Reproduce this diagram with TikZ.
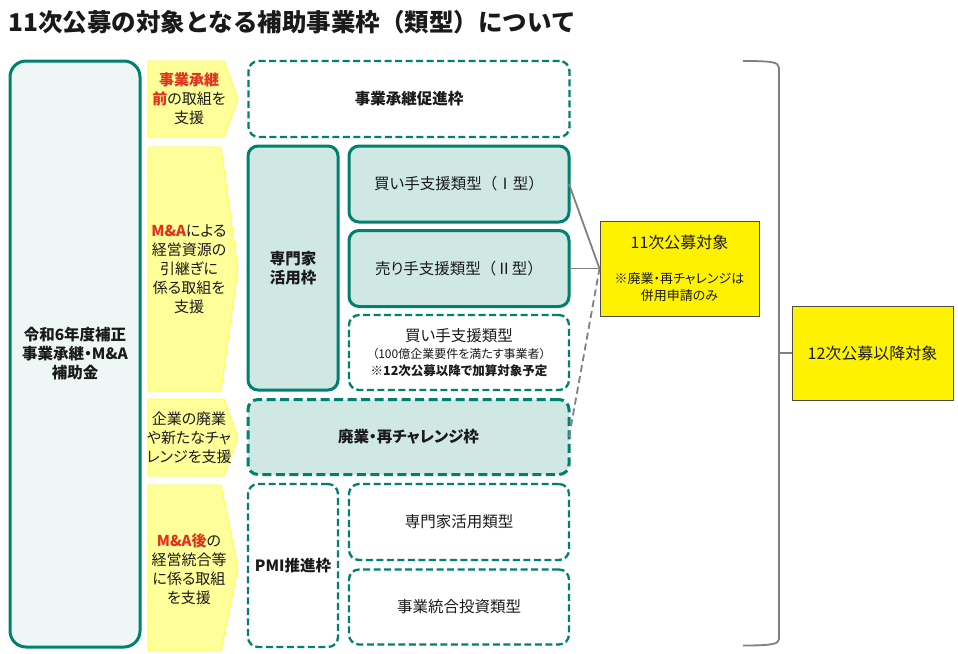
\documentclass[tikz,border=0pt]{standalone}
\usepackage{fontspec}
\setmainfont{Noto Sans CJK JP}[RawFeature=+palt]
\newfontfamily\plainjp{Noto Sans CJK JP}
\definecolor{tealline}{HTML}{00806E}
\definecolor{tealfill}{HTML}{CFE8E3}
\definecolor{palefill}{HTML}{EEF7F5}
\definecolor{arrowfill}{HTML}{FFFF99}
\definecolor{arrowline}{HTML}{FFFF33}
\definecolor{hired}{HTML}{E3301F}
\definecolor{connline}{HTML}{808080}
\definecolor{txt}{HTML}{1A1A1A}
\newcommand{\rd}[1]{\textcolor{hired}{\bfseries #1}}
\newcommand{\smallnote}{\fontsize{13}{17}\selectfont}
\tikzset{
  every node/.style={text=txt},
  basebox/.style={inner sep=0pt, outer sep=0pt, align=center, rounded corners=10pt,
                  font=\fontsize{15.5}{19}\selectfont},
  solidbox/.style={basebox, draw=tealline, line width=3pt, fill=tealfill},
  dashbox/.style={basebox, draw=tealline, line width=2.3pt, dash pattern=on 7pt off 3.5pt, fill=white},
  dashfill/.style={basebox, draw=tealline, line width=3pt, dash pattern=on 9pt off 4.5pt, fill=tealfill},
  chev/.style={draw=arrowline, line width=0.8pt, fill=arrowfill},
  chevtext/.style={align=center, inner sep=0pt, font=\fontsize{15}{19}\selectfont},
  target/.style={draw=black!70, line width=1pt, fill=yellow, inner sep=0pt, align=center,
                 font=\fontsize{16}{19}\selectfont},
  conn/.style={draw=connline, line width=1.8pt},
}
\begin{document}
\begin{tikzpicture}[x=1pt,y=-1pt]
\useasboundingbox (0,0) rectangle (958,653);

% title
\node[anchor=base west, inner sep=0pt, font=\plainjp\fontsize{24.5}{30}\selectfont\bfseries] (title) at (8,31)
  {11次公募の対象となる補助事業枠（類型）について};

% left main box
\node[basebox, draw=tealline, line width=3pt, fill=palefill, rounded corners=16pt,
      minimum width=130pt, minimum height=586pt, font=\fontsize{15.5}{19}\selectfont\bfseries]
  (main) at (75,354) {令和6年度補正\\事業承継・M\&A\\補助金};

% chevrons
\draw[chev] (148,61) -- (224,61) -- (238,99) -- (224,137) -- (148,137) -- cycle;
\node[chevtext] (a1) at (189,99) {\rd{事業承継}\\\rd{前}の取組を\\支援};
\draw[chev] (148,147) -- (221,147) -- (238,269) -- (221,391) -- (148,391) -- cycle;
\node[chevtext] (a2) at (189,269) {\rd{M\&A}による\\経営資源の\\引継ぎに\\係る取組を\\支援};
\draw[chev] (148,399) -- (224,399) -- (238,437.5) -- (224,476) -- (148,476) -- cycle;
\node[chevtext] (a3) at (189,438) {企業の廃業\\や新たなチャ\\レンジを支援};
\draw[chev] (148,485) -- (221,485) -- (238,568) -- (221,651) -- (148,651) -- cycle;
\node[chevtext] (a4) at (189,569) {\rd{M\&A後}の\\経営統合等\\に係る取組\\を支援};

% targets
\node[target, minimum width=159pt, minimum height=95pt] (t11) at (679.5,268.5)
  {11次公募対象\\[16pt]{\smallnote ※廃業・再チャレンジは}\\[-2pt]{\smallnote 併用申請のみ}};
\node[target, minimum width=161pt, minimum height=94pt] (t12) at (872.5,353) {12次公募以降対象};

% middle boxes
\node[dashbox, minimum width=321pt, minimum height=76pt, font=\fontsize{15.5}{19}\selectfont\bfseries]
  (prom) at (409,99) {事業承継促進枠};
\node[solidbox, minimum width=90pt, minimum height=244pt, font=\fontsize{15.5}{19}\selectfont\bfseries]
  (senmon) at (293,268) {専門家\\活用枠};
\node[solidbox, minimum width=220pt, minimum height=76pt] (buy1) at (459,184) {買い手支援類型{\plainjp（Ⅰ型）}};
\node[solidbox, minimum width=220pt, minimum height=76pt] (sell) at (459,268.5) {売り手支援類型{\plainjp（Ⅱ型）}};
\node[dashbox, minimum width=220pt, minimum height=75pt] (buy2) at (459,352.5)
  {買い手支援類型\\[-2pt]{\fontsize{12}{16}\selectfont （100億企業要件を満たす事業者）}\\[-2pt]{\fontsize{12.5}{16}\selectfont\bfseries ※12次公募以降で加算対象予定}};
\node[dashfill, minimum width=321pt, minimum height=75pt, font=\fontsize{15.5}{19}\selectfont\bfseries]
  (haigyo) at (408.5,437) {廃業・再チャレンジ枠};
\node[dashbox, minimum width=90pt, minimum height=163pt, font=\fontsize{15.5}{19}\selectfont\bfseries]
  (pmi) at (293,565.5) {PMI推進枠};
\node[dashbox, minimum width=220pt, minimum height=76pt] (pmi1) at (459,522) {専門家活用類型};
\node[dashbox, minimum width=220pt, minimum height=75pt] (pmi2) at (459,607) {事業統合投資類型};

\draw[conn] (buy1.east) -- (t11.west);
\draw[conn] (sell.east) -- (t11.west);
\draw[conn, dash pattern=on 7pt off 4pt] (haigyo.east) -- (t11.west);

% bracket
\draw[conn] (743,61) .. controls (772,61) and (779,62) .. (779,68) -- (779,639)
  .. controls (779,644) and (772,645.5) .. (743,645.5);
\coordinate (br) at (779,353);
\draw[conn] (br) -- (t12.west);
\end{tikzpicture}
\end{document}
